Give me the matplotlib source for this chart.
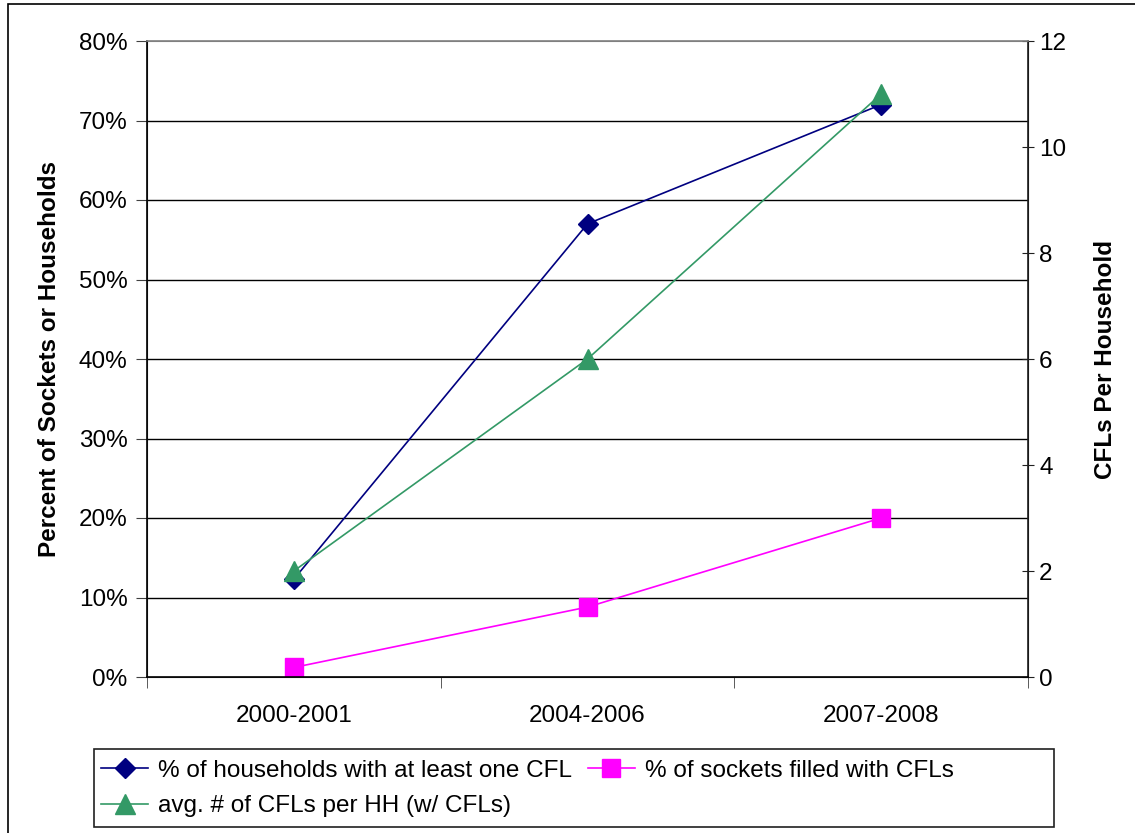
import matplotlib.pyplot as plt
from matplotlib.patches import Rectangle
from matplotlib.ticker import FuncFormatter

plt.rcParams['font.family'] = ['Liberation Sans', 'DejaVu Sans']

periods = ['2000-2001', '2004-2006', '2007-2008']
pct_households = [12.3, 57.0, 72.0]
pct_sockets = [1.2, 8.8, 20.0]
cfls_per_hh = [2.0, 6.0, 11.0]

W, H = 1135, 833
fs = 17.5
fig = plt.figure(figsize=(W / 100, H / 100), dpi=100)
ax = fig.add_axes([147 / W, 1 - 677 / H, (1028 - 147) / W, (677 - 41) / H])
ax2 = ax.twinx()

x = range(len(periods))
l1, = ax.plot(x, pct_households, color='#000080', marker='D', markersize=10, lw=1.2,
              label='% of households with at least one CFL', zorder=4)
l2, = ax.plot(x, pct_sockets, color='#FF00FF', marker='s', markersize=13.5, lw=1.2,
              label='% of sockets filled with CFLs', zorder=4)
l3, = ax2.plot(x, cfls_per_hh, color='#339966', marker='^', markersize=14, lw=1.2,
               label='avg. # of CFLs per HH (w/ CFLs)', zorder=4)

ax.set_xlim(-0.5, 2.5)
ax.set_ylim(0, 80)
ax2.set_ylim(0, 12)
ax.set_yticks(range(0, 81, 10))
ax2.set_yticks(range(0, 13, 2))
ax.yaxis.set_major_formatter(FuncFormatter(lambda v, p: f'{v:.0f}%'))
ax.set_xticks([0, 1, 2])
ax.set_xticklabels(periods)
ax.set_xticks([-0.5, 0.5, 1.5, 2.5], minor=True)
ax.tick_params(axis='x', which='major', length=0, pad=20, labelsize=fs)
ax.tick_params(axis='x', which='minor', length=8, direction='out', color='#404040')
ax.tick_params(axis='y', length=8, direction='out', labelsize=fs, pad=6, color='#404040')
ax2.tick_params(axis='y', length=8, direction='inout', labelsize=fs, pad=4, color='#202020')

for v in range(10, 80, 10):
    ax.axhline(v, color='black', lw=1.0, zorder=1)

ax.spines['top'].set_color('#808080')
ax.spines['left'].set_color('#404040')
ax.spines['bottom'].set_color('#404040')
ax2.spines['top'].set_color('#808080')
ax2.spines['right'].set_color('#202020')
for s in ax2.spines.values():
    s.set_linewidth(1.2)

ax.set_ylabel('Percent of Sockets or Households', fontsize=fs, fontweight='bold', labelpad=13)
ax2.set_ylabel('CFLs Per Household', fontsize=fs, fontweight='bold', labelpad=20, rotation=90)

# legend frame drawn separately so it spans the full box width
fig.patches.append(Rectangle((94 / W, 1 - 827 / H), (1054 - 94) / W, (827 - 749) / H,
                             transform=fig.transFigure, fill=False, edgecolor='#202020', lw=1.2))
fig.legend([l1, l3, l2], [l1.get_label(), l3.get_label(), l2.get_label()],
           ncol=2, loc='upper left', bbox_to_anchor=(96 / W, 1 - 755 / H),
           fontsize=fs, frameon=False, handlelength=1.95, handletextpad=0.4,
           columnspacing=0.65, borderpad=0.2, labelspacing=0.55, borderaxespad=0)

fig.patches.append(Rectangle((8 / W, -0.01), 1.02, 1 - 4 / H + 0.01, transform=fig.transFigure,
                             fill=False, edgecolor='black', lw=1.2))

fig.savefig('out.png', dpi=100)
